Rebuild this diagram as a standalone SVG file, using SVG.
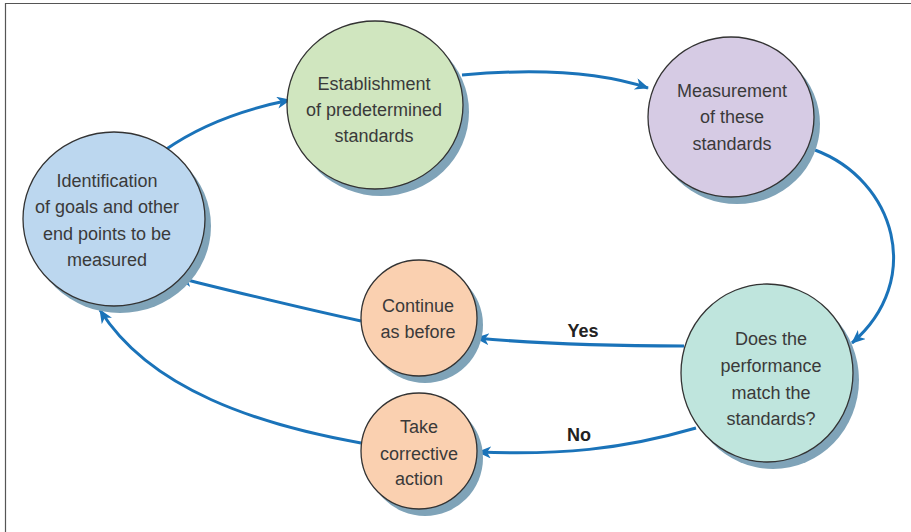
<svg xmlns="http://www.w3.org/2000/svg" width="911" height="532" viewBox="0 0 911 532">
<defs>
<marker id="ah" markerUnits="userSpaceOnUse" markerWidth="16" markerHeight="14" refX="13" refY="6" orient="auto">
<path d="M0,0 L14,6 L0,12 L4,6 z" fill="#1a73b9"/>
</marker>
<style>
.sh{fill:#7fa3b8}
.nd{stroke:#333;stroke-width:1.3}
.t{font-family:"Liberation Sans",Arial,sans-serif;font-size:18px;fill:#3a3a3a;text-anchor:middle}
.lb{font-family:"Liberation Sans",Arial,sans-serif;font-size:18px;font-weight:bold;fill:#222;text-anchor:middle}
.c{fill:none;stroke:#1a73b9;stroke-width:3;marker-end:url(#ah)}
</style>
</defs>
<rect width="911" height="532" fill="#fff"/>
<path d="M5.5,532 L5.5,3.5 L911,3.5" fill="none" stroke="#555" stroke-width="1.2"/>
<g id="connectors">
<path class="c" d="M165,150 Q215,115 290,100"/>
<path class="c" d="M462,75 C540,68 600,72 648,88"/>
<path class="c" d="M815,150 C895,180 925,280 852,343"/>
<path class="c" d="M684,346 C600,346 540,344 476,338"/>
<path class="c" d="M696,428 C620,450 560,455 478,452"/>
<path class="c" d="M361,321 C300,308 240,293 179,278"/>
<path class="c" d="M361,443 C260,425 150,390 100,310"/>
<text class="lb" x="583" y="337">Yes</text>
<text class="lb" x="579" y="441">No</text>
</g>
<g id="identification">
<ellipse class="sh" cx="120" cy="226" rx="91" ry="87"/>
<ellipse class="nd" cx="114" cy="219" rx="91" ry="87" fill="#bcd7ef"/>
<text class="t" x="107" y="187">Identification</text>
<text class="t" x="107" y="213">of goals and other</text>
<text class="t" x="107" y="240">end points to be</text>
<text class="t" x="107" y="266">measured</text>
</g>
<g id="establishment">
<ellipse class="sh" cx="381" cy="112" rx="88" ry="84"/>
<ellipse class="nd" cx="375" cy="105" rx="88" ry="84" fill="#d0e6bf"/>
<text class="t" x="374" y="90">Establishment</text>
<text class="t" x="374" y="116">of predetermined</text>
<text class="t" x="374" y="142">standards</text>
</g>
<g id="measurement">
<ellipse class="sh" cx="737" cy="124" rx="83" ry="80"/>
<ellipse class="nd" cx="731" cy="117" rx="83" ry="80" fill="#d6cbe4"/>
<text class="t" x="732" y="97">Measurement</text>
<text class="t" x="732" y="123">of these</text>
<text class="t" x="732" y="150">standards</text>
</g>
<g id="decision">
<ellipse class="sh" cx="773" cy="380" rx="86" ry="89"/>
<ellipse class="nd" cx="767" cy="373" rx="86" ry="89" fill="#bfe5dd"/>
<text class="t" x="771" y="345">Does the</text>
<text class="t" x="771" y="372">performance</text>
<text class="t" x="771" y="399">match the</text>
<text class="t" x="771" y="425">standards?</text>
</g>
<g id="continue">
<ellipse class="sh" cx="425" cy="325" rx="58" ry="58"/>
<ellipse class="nd" cx="419" cy="318" rx="58" ry="58" fill="#fad0b0"/>
<text class="t" x="418" y="312">Continue</text>
<text class="t" x="418" y="338">as before</text>
</g>
<g id="corrective">
<ellipse class="sh" cx="425" cy="458" rx="58" ry="58"/>
<ellipse class="nd" cx="419" cy="451" rx="58" ry="58" fill="#fad0b0"/>
<text class="t" x="419" y="433">Take</text>
<text class="t" x="419" y="460">corrective</text>
<text class="t" x="419" y="485">action</text>
</g>
</svg>
